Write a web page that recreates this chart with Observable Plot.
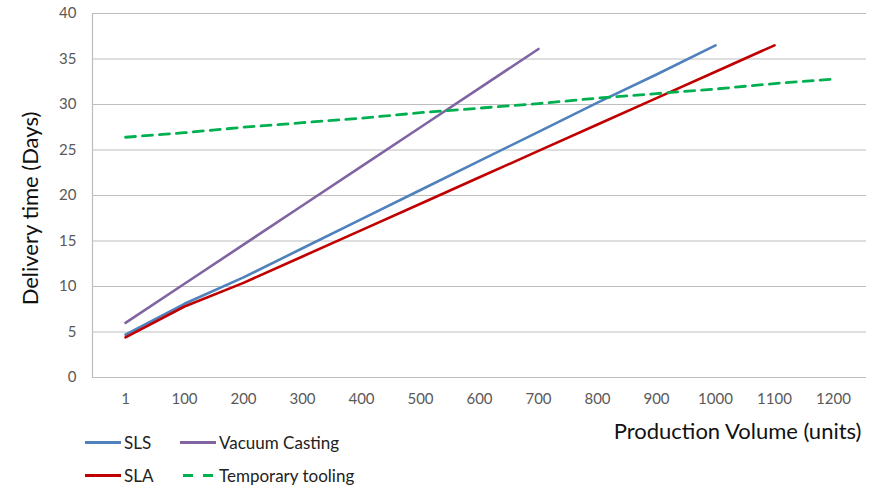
<!DOCTYPE html>
<html><head><meta charset="utf-8">
<script src="https://cdn.jsdelivr.net/npm/d3@7"></script>
<script src="https://cdn.jsdelivr.net/npm/@observablehq/plot@0.6"></script>
<style>
body{margin:0;background:#fff;font-family:Lato,"Open Sans",sans-serif;}
#wrap{position:relative;width:869px;height:487px;overflow:hidden;}
.leg{position:absolute;display:flex;align-items:center;font-size:17px;color:#222;}
.sw{width:36px;height:3px;margin-right:3px;}
</style></head>
<body><div id="wrap"></div>
<script>
const volumes = ["1","100","200","300","400","500","600","700","800","900","1000","1100","1200"];
const seriesNames = ["SLS","Vacuum Casting","SLA","Temporary tooling"];
const seriesColors = ["#4F81BD","#8064A2","#C00000","#00B050"];
const sls = [4.7, 8.1, 11.0, 14.2, 17.4, 20.6, 23.8, 27.0, 30.2, 33.3, 36.5];
const vacuum = [6.0, 10.3, 14.6, 18.9, 23.2, 27.5, 31.8, 36.1];
const sla = [4.4, 7.8, 10.4, 13.3, 16.2, 19.1, 22.0, 24.9, 27.8, 30.7, 33.6, 36.5];
const tooling = [26.4, 26.9, 27.5, 28.0, 28.5, 29.1, 29.6, 30.1, 30.7, 31.2, 31.7, 32.3, 32.8];
const yTicks = [0,5,10,15,20,25,30,35,40];

const allVals = [sls, vacuum, sla, tooling];
const rows = allVals.flatMap((vals, s) => vals.map((v, i) => ({series: seriesNames[s], vol: volumes[i], days: v})));
const solid = rows.filter(d => d.series !== "Temporary tooling");
const dashed = rows.filter(d => d.series === "Temporary tooling");

const chart = Plot.plot({
  width: 869, height: 487,
  marginLeft: 92, marginRight: 3, marginTop: 13, marginBottom: 110,
  style: {fontFamily: "Lato, 'Open Sans', sans-serif", background: "#fff"},
  x: {type: "point", domain: volumes, padding: 0.5},
  y: {domain: [0, 40]},
  color: {domain: seriesNames, range: seriesColors},
  marks: [
    Plot.gridY(yTicks, {stroke: "#BDBDBD", strokeOpacity: 1, strokeWidth: 1.2}),
    Plot.frame({anchor: "left", stroke: "#BDBDBD", strokeWidth: 1.2}),
    Plot.axisY(yTicks, {tickSize: 0, tickPadding: 16, fontSize: 15, fill: "#595959", label: null}),
    Plot.axisX(volumes, {tickSize: 0, tickPadding: 16, fontSize: 15, fill: "#595959", label: null}),
    Plot.line(solid, {x: "vol", y: "days", z: "series", stroke: "series", strokeWidth: 2.6}),
    Plot.line(dashed, {x: "vol", y: "days", stroke: "series", strokeWidth: 2.8, strokeDasharray: "10,7"}),
    Plot.text(["Delivery time (Days)"], {frameAnchor: "left", textAnchor: "middle", rotate: -90, dx: -62, dy: 13, fontSize: 22, fill: "#111"}),
    Plot.text(["Production Volume (units)"], {frameAnchor: "bottom-right", textAnchor: "end", dx: -5, dy: 61, fontSize: 22, fill: "#111"})
  ]
});
const wrap = document.getElementById("wrap");
wrap.appendChild(chart);

const legendPos = [[85,444],[180,444],[85,477],[180,477]];
seriesNames.forEach((name, i) => {
  const el = document.createElement("div");
  el.className = "leg";
  el.style.left = legendPos[i][0] + "px";
  el.style.top = (legendPos[i][1] - 12) + "px";
  const sw = document.createElement("div");
  sw.className = "sw";
  const c = seriesColors[i];
  sw.style.background = name === "Temporary tooling"
    ? `repeating-linear-gradient(90deg, transparent 0 3px, ${c} 3px 13px, transparent 13px 20px)`
    : c;
  el.appendChild(sw);
  const t = document.createElement("span");
  t.textContent = name;
  el.appendChild(t);
  wrap.appendChild(el);
});
</script></body></html>
